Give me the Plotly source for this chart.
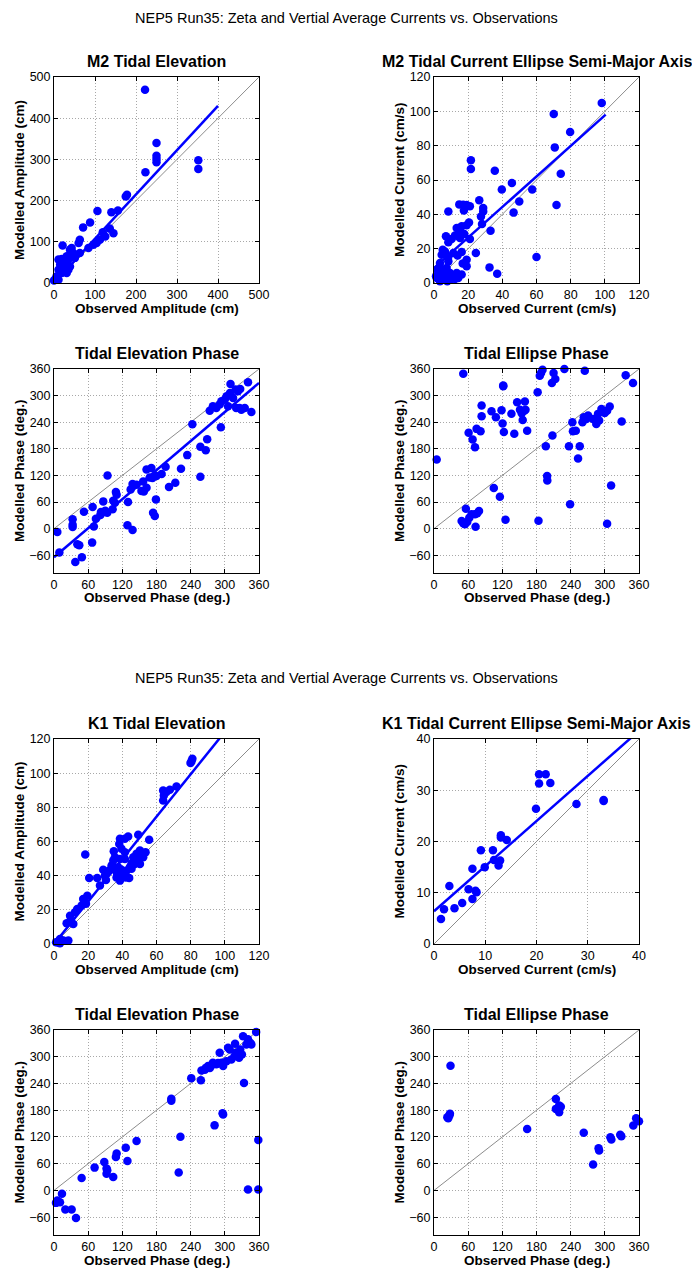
import plotly.graph_objects as go

W, H = 692, 1268
FONT = "Liberation Sans, Arial, sans-serif"

# ---------------- data ----------------
main_title = "NEP5 Run35: Zeta and Vertial Average Currents vs. Observations"

# M2 tidal elevation amplitude (cm)
m2_elev_obs = [222, 250, 250, 250, 250, 223, 352, 352, 175, 178, 156, 140, 145, 136, 106, 88, 71,
               63, 60, 63, 125, 119, 112, 104, 96, 84, 21, 11, 19, 31, 39, 43, 47, 31, 23, 15, 6, 2,
               39, 27, 35, 11, 19, 11, 0, 31, 35, 23, 15, 51]
m2_elev_mod = [469, 340, 309, 301, 293, 269, 298, 277, 210, 214, 176, 172, 121, 132, 175, 147, 135,
               105, 97, 73, 113, 123, 105, 97, 93, 85, 91, 57, 58, 65, 81, 85, 73, 40, 32, 24, 16, 8,
               40, 49, 57, 32, 24, 8, 6, 24, 32, 57, 45, 61]
m2_elev_fit = {"x": [0, 400], "slope": 1.075, "intercept": 0.0}

# M2 current semi-major axis (cm/s)
m2_cur_obs = [98.2, 70.1, 70.7, 79.7, 74.2, 71.7, 60, 57.5, 49.9, 46.6, 45.6, 39.7, 35.6, 33.1, 32.5,
              37, 21.6, 21.6, 26.5, 28.8, 28.8, 27.5, 28.1, 24.5, 21, 19.1, 17.1, 14.8, 17.5, 20.5,
              19.1, 16.2, 21, 17.7, 15.2, 13.3, 15.2, 19.1, 16.8, 19.1, 16.2, 13.8, 11.3, 8.4, 10.3,
              12.3, 7, 8.4, 6.4, 5.1, 4.5, 8.4, 8.4, 13.3, 16.2, 14.2, 3.5, 1.9, 2.7, 5.5, 7.4, 9.4,
              10.9, 7.4, 4.5, 1.6, 1.2, 5.8, 9.4, 12.3, 7.8, 3.5]
m2_cur_mod = [104.9, 98.4, 79, 88, 63.7, 45.4, 15.1, 54.4, 47.5, 41, 58.3, 54.4, 65.4, 30.5, 9.1,
              5.4, 71.5, 66.4, 48.2, 43.7, 41.7, 38.8, 34.4, 17.5, 44.7, 45.4, 45.6, 45.8, 42.3, 35.3,
              33.6, 33, 25.6, 28.5, 30.1, 32, 26.2, 13.6, 11.3, 9.7, 18, 16, 17.5, 23.7, 25.6,
              27.6, 27.2, 41.7, 18.4, 19.4, 16.5, 15.5, 12.6, 5.8, 4.9, 2.9, 11.6, 7.8, 5.8, 7.8, 8.7, 5.8,
              3.5, 2.9, 2.3, 2.9, 3.9, 4.9, 1.9, 2.3, 1.0, 1.0]
m2_cur_fit = {"x": [0, 100.5], "slope": 0.889, "intercept": 8.7}

# M2 tidal elevation phase (deg.)
m2_ephase_obs = [5.8, 9.4, 32.7, 32.7, 32.7, 37.4, 41, 44.4, 49, 52.6, 67, 67.8, 70, 73.6, 81.5, 82.4,
                 86.5, 90, 93.5, 94, 103, 104, 108.7, 110, 107, 130, 129, 138, 134.6, 138, 145, 153.6,
                 157.8, 162.5, 156.6, 162.5, 171, 168, 173, 174, 177, 179, 180, 189, 196, 202, 213,
                 223, 234, 243, 257, 257, 266.5, 269, 293, 273.5, 279, 285, 291, 294, 300, 303, 309,
                 310, 314.5, 319, 323, 327, 320, 326, 329, 335, 340.7, 346.6, 305.7]
m2_ephase_mod = [-7.5, -54, 21, 9, 3.8, -75, -35, -37.5, -64.5, 38, -31.5, 49, 5, 22.5, 31, 37.5,
                 61.5, 40.5, 36, 120, 43.5, 63, 82.5, 76.5, 58.5, 60, 7.5, -3, 88.5, 100.5, 99, 84.8,
                 84, 92, 106.5, 133.5, 136.5, 115.5, 114, 36, 28.5, 66, 118.5, 123, 139.5, 93.8, 103.5,
                 135, 165.8, 235.5, 184.5, 117, 177, 201.8, 228.8, 266, 276, 272, 279.8, 287, 291, 298.5, 306,
                 326, 294.8, 313.5, 310, 315, 272, 272, 268, 272, 330, 263, 276]
m2_ephase_fit = {"x": [0, 360], "slope": 1.0917, "intercept": -64.5}

# M2 tidal ellipse phase (deg.)
m2_cphase_obs = [4.7, 51.4, 48.5, 51.4, 54.4, 58.4, 62, 66, 72, 76, 79, 73, 56, 60.8, 67.8, 72, 74.8,
                 81.8, 83.6, 83.6, 101, 108.7, 118.6, 120.4, 122.7, 121.6, 121.6, 136, 141, 146, 151,
                 154, 155.8, 158.7, 159.6, 160.7, 163.6, 105, 115.7, 125.6, 183.5, 182, 185.8, 188,
                 190.6, 207, 210, 213, 208, 196.4, 198.7, 199, 229, 264.8, 237, 239, 243, 244, 249,
                 253, 256, 260.7, 263, 267.7, 270.6, 279.4, 285, 288, 290, 294, 299.8, 304, 308.6,
                 311, 304, 329.6, 336.6, 349.5]
m2_cphase_mod = [156, 349.5, 17, 12, 9.8, 15, 24.8, 32.3, 32.3, 34.5, 39.8, 4.5, 45, 216, 201, 183.8, 225,
                 219.8, 253.5, 277.5, 264.8, 251, 266.8, 237, 218, 323, 321, 259, 214, 285, 268,
                 260, 245, 266, 286.5, 268, 221, 91.5, 72, 20, 18, 307.5, 345, 351,
                 358.5, 328.5, 351, 337.5, 210, 186, 118.5, 108.8, 360, 356, 186, 54.8, 240, 219.8, 221,
                 158, 186, 240, 251, 247.5, 255, 247.5, 236, 258.8, 244, 270, 261, 266, 275.3,
                 97.5, 11.3, 241.5, 345.8, 328.5]

# K1 tidal elevation amplitude (cm)
k1_elev_obs = [81, 79.9, 80.5, 71.7, 67.8, 63.9, 65.8, 64.3, 63.9, 55.7, 53.6, 49.3, 50.3, 51.2, 48.3,
               46.4, 43.4, 41.5, 38.6, 38.2, 41.5, 39.5, 35, 34.7, 33.7, 32.3, 29.8, 28.8, 30.4, 26.9,
               20.6, 25.3, 18.3, 19.5, 17.1, 18.7, 16.2, 13.6, 12.3, 9.4, 9.7, 7.4, 11.3, 8.4, 5.5,
               3.5, 1.9, 1.2, 3.5, 36.6, 38.6, 40.5, 42, 42.6, 44.4, 45.4, 39.5, 37.5, 36.9, 44,
               35.6, 45.4, 47.3, 48.7, 52.2, 50.3, 38.6, 41.5]
k1_elev_mod = [108.5, 106, 107, 92.2, 90.3, 89.9, 89, 87, 84, 61, 53.7, 63.9, 54.7, 51.8, 52.8,
               50.8, 62.9, 61.6, 61.6, 58.6, 53.7, 55.7, 54.3, 48.9, 45.9, 43, 40, 43.4, 37.5, 34.2,
               38.7, 38.7, 52.4, 28.3, 26.4, 23.5, 22.5, 20.5, 18.6, 16.6, 13.7, 12.1, 11.7, 2, 2,
               2.9, 1, 1, 0.4, 39, 37.1, 40.6, 39, 43, 45, 47.3, 43.4, 45, 41.4, 38.7,
               50.8, 44, 46.9, 48.9, 50.8, 46.9, 49.8, 49.8]
k1_elev_fit = {"x": [0, 120], "slope": 1.242, "intercept": 0.0}

# K1 current semi-major axis (cm/s)
k1_cur_obs = [1.36, 1.95, 3, 4, 5.5, 6.75, 7.5, 7.5, 8.1, 8.3, 9.15, 9.9, 11.5, 11.7, 12.6, 12.9,
              13.05, 13.05, 14.2, 19.9, 20.5, 20.5, 21.8, 22.7, 27.8, 33.1, 33.1]
k1_cur_mod = [4.9, 6.8, 11.3, 7, 8, 10.7, 14.7, 8.8, 10.4, 10.1, 18.3, 15, 18.3, 16.4, 15.3, 16.3,
              21.2, 20.8, 20.3, 26.4, 33.1, 31.3, 33.1, 31.4, 27.3, 28.1, 27.9]
k1_cur_fit = {"x": [0, 40], "slope": 0.88, "intercept": 6.4}

# K1 tidal elevation phase (deg.)
k1_ephase_obs = [3.5, 5.8, 10.5, 14, 19.9, 31, 38.6, 48.5, 71.3, 88.3, 92.3, 92.3, 93.5, 104, 108.7,
                 110, 126, 129, 145, 206, 206, 222, 219, 241, 258, 259, 265, 273.7, 278, 282, 288,
                 291, 297, 296, 297, 302.8, 305.7, 308.6, 311.5, 317, 320, 318, 325, 327, 330, 332,
                 333.7, 337.8, 340.7, 345, 346.6, 340.7, 355, 358.8, 358.8, 266.5, 270.6, 279, 285, 294]
k1_ephase_mod = [-27.9, -22.6, -26.4, -7.5, -42.9, -42.9, -61.8, 27.9, 51.2, 64, 37.7, 49, 45.2, 30, 75.3,
                 82.8, 95.6, 66.3, 110.7, 201, 205.6, 120.5, 40, 252, 247, 269, 271, 275, 282, 146, 286,
                 308.8, 170.6, 173, 279, 290, 320, 316.3, 294, 301.3, 309, 329, 297.6, 316, 305, 346,
                 241, 327.6, 339, 331, 327.6, 2.3, 355.5, 113, 2.3, 275, 279, 286.6, 283, 286.6]

# K1 tidal ellipse phase (deg.)
k1_cphase_obs = [23.4, 25, 27, 28, 29, 163.6, 214, 214, 219.8, 222.7, 219.8, 263, 279.4, 289, 290,
                 309.7, 311.5, 327, 329, 350, 355, 360]
k1_cphase_mod = [164.3, 162, 168, 172, 280, 138, 205, 183, 190.4, 188, 175.5, 129.3, 58, 94.8, 89.6,
                 119.5, 114.3, 124.7, 121.7, 145.6, 162, 155.4]

amp_ticks_m2e = [0, 100, 200, 300, 400, 500]
amp_ticks_m2c = [0, 20, 40, 60, 80, 100, 120]
amp_ticks_k1e = [0, 20, 40, 60, 80, 100, 120]
amp_ticks_k1c = [0, 10, 20, 30, 40]
phase_xticks = [0, 60, 120, 180, 240, 300, 360]
phase_yticks = [-60, 0, 60, 120, 180, 240, 300, 360]

panels = [
    dict(title="M2 Tidal Elevation", xt="Observed Amplitude (cm)", yt="Modelled Amplitude (cm)",
         x=m2_elev_obs, y=m2_elev_mod, fit=m2_elev_fit, xr=[0, 500], yr=[0, 500],
         xtk=amp_ticks_m2e, ytk=amp_ticks_m2e, box=(54, 259, 77, 283)),
    dict(title="M2 Tidal Current Ellipse Semi-Major Axis", xt="Observed Current (cm/s)",
         yt="Modelled Current (cm/s)", x=m2_cur_obs, y=m2_cur_mod, fit=m2_cur_fit,
         xr=[0, 120], yr=[0, 120], xtk=amp_ticks_m2c, ytk=amp_ticks_m2c, box=(434, 639, 77, 283)),
    dict(title="Tidal Elevation Phase", xt="Observed Phase (deg.)", yt="Modelled Phase (deg.)",
         x=m2_ephase_obs, y=m2_ephase_mod, fit=m2_ephase_fit, xr=[0, 360], yr=[-100, 360],
         xtk=phase_xticks, ytk=phase_yticks, box=(54, 259, 369, 573)),
    dict(title="Tidal Ellipse Phase", xt="Observed Phase (deg.)", yt="Modelled Phase (deg.)",
         x=m2_cphase_obs, y=m2_cphase_mod, fit=None, xr=[0, 360], yr=[-100, 360],
         xtk=phase_xticks, ytk=phase_yticks, box=(434, 639, 369, 573)),
    dict(title="K1 Tidal Elevation", xt="Observed Amplitude (cm)", yt="Modelled Amplitude (cm)",
         x=k1_elev_obs, y=k1_elev_mod, fit=k1_elev_fit, xr=[0, 120], yr=[0, 120],
         xtk=amp_ticks_k1e, ytk=amp_ticks_k1e, box=(54, 259, 739, 944)),
    dict(title="K1 Tidal Current Ellipse Semi-Major Axis", xt="Observed Current (cm/s)",
         yt="Modelled Current (cm/s)", x=k1_cur_obs, y=k1_cur_mod, fit=k1_cur_fit,
         xr=[0, 40], yr=[0, 40], xtk=amp_ticks_k1c, ytk=amp_ticks_k1c, box=(434, 639, 739, 944)),
    dict(title="Tidal Elevation Phase", xt="Observed Phase (deg.)", yt="Modelled Phase (deg.)",
         x=k1_ephase_obs, y=k1_ephase_mod, fit=None, xr=[0, 360], yr=[-100, 360],
         xtk=phase_xticks, ytk=phase_yticks, box=(54, 259, 1030, 1235)),
    dict(title="Tidal Ellipse Phase", xt="Observed Phase (deg.)", yt="Modelled Phase (deg.)",
         x=k1_cphase_obs, y=k1_cphase_mod, fit=None, xr=[0, 360], yr=[-100, 360],
         xtk=phase_xticks, ytk=phase_yticks, box=(434, 639, 1030, 1235)),
]

fig = go.Figure()
annotations = []


def px(xp):
    return xp / W


def py(yp):
    return 1 - yp / H


for i, p in enumerate(panels):
    n = "" if i == 0 else str(i + 1)
    xa, ya = "x" + n, "y" + n
    x0, x1, y0, y1 = p["box"]
    lo = max(p["xr"][0], p["yr"][0], 0)
    hi = min(p["xr"][1], p["yr"][1])
    # 1:1 reference line
    fig.add_trace(go.Scatter(x=[lo, hi], y=[lo, hi], mode="lines",
                             line=dict(color="#8c8c8c", width=1), xaxis=xa, yaxis=ya,
                             showlegend=False, hoverinfo="skip"))
    # observations vs model
    fig.add_trace(go.Scatter(x=p["x"], y=p["y"], mode="markers",
                             marker=dict(color="#0000ff", size=8.5, line=dict(width=0)),
                             cliponaxis=False, xaxis=xa, yaxis=ya, showlegend=False))
    # regression line
    if p["fit"] is not None:
        f = p["fit"]
        fy = [f["slope"] * v + f["intercept"] for v in f["x"]]
        fig.add_trace(go.Scatter(x=f["x"], y=fy, mode="lines",
                                 line=dict(color="#0000ff", width=2.5), xaxis=xa, yaxis=ya,
                                 showlegend=False, hoverinfo="skip"))
    common = dict(showline=True, mirror="ticks", linecolor="#000000", linewidth=1,
                  ticks="inside", ticklen=4, tickcolor="#000000", showgrid=True,
                  gridcolor="#a8a8a8", griddash="1px,2px", gridwidth=1, zeroline=False,
                  automargin=False, tickfont=dict(family=FONT, size=12.5, color="#000000"))
    fig.update_layout(**{
        ("xaxis" + n): dict(domain=[px(x0), px(x1)], range=p["xr"], tickvals=p["xtk"],
                            anchor=ya, **common),
        ("yaxis" + n): dict(domain=[py(y1), py(y0)], range=p["yr"], tickvals=p["ytk"],
                            anchor=xa, **common),
    })
    cx = (x0 + x1) / 2
    cy = (y0 + y1) / 2
    annotations.append(dict(text="<b>" + p["title"] + "</b>", x=px(cx), y=py(y0 - 15.5),
                            xref="paper", yref="paper", showarrow=False, xanchor="center",
                            yanchor="middle", font=dict(family=FONT, size=16, color="#000000")))
    annotations.append(dict(text="<b>" + p["xt"] + "</b>", x=px(cx), y=py(y1 + 25),
                            xref="paper", yref="paper", showarrow=False, xanchor="center",
                            yanchor="middle", font=dict(family=FONT, size=13.5, color="#000000")))
    annotations.append(dict(text="<b>" + p["yt"] + "</b>", x=px(x0 - 35), y=py(cy),
                            xref="paper", yref="paper", showarrow=False, xanchor="center",
                            yanchor="middle", textangle=-90,
                            font=dict(family=FONT, size=13.5, color="#000000")))

for ty in (18, 678):
    annotations.append(dict(text=main_title, x=0.5, y=py(ty), xref="paper", yref="paper",
                            showarrow=False, xanchor="center", yanchor="middle",
                            font=dict(family=FONT, size=14.5, color="#000000")))

fig.update_layout(width=W, height=H, margin=dict(l=0, r=0, t=0, b=0),
                  paper_bgcolor="#ffffff", plot_bgcolor="#ffffff",
                  annotations=annotations, showlegend=False)

fig.write_html("out.html")
